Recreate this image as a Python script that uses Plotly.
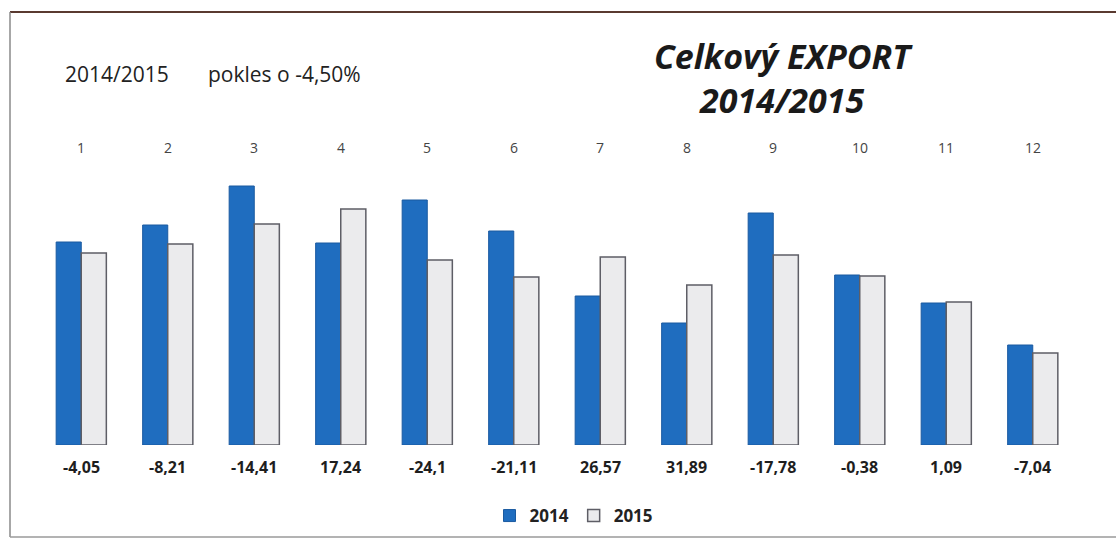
import plotly.graph_objects as go

months = ["1", "2", "3", "4", "5", "6", "7", "8", "9", "10", "11", "12"]
export_2014 = [203, 220, 259, 202, 245, 214, 149, 122, 232, 170, 142, 100]
export_2015 = [192, 201, 221, 236, 185, 168, 188, 160, 190, 169, 143, 92]
change_pct = ["-4,05", "-8,21", "-14,41", "17,24", "-24,1", "-21,11",
              "26,57", "31,89", "-17,78", "-0,38", "1,09", "-7,04"]

FONT = "Open Sans"
L, T, B, W, H = 38, 175, 95, 1038, 270


def py(pix):
    """paper y for a pixel row"""
    return (T + H - pix) / H


def px(pix):
    return (pix - L) / W


fig = go.Figure()
fig.add_trace(go.Bar(
    x=months, y=export_2014, name="2014",
    marker=dict(color="#1f6dbf", line=dict(color="#1a5aa0", width=1)),
))
fig.add_trace(go.Bar(
    x=months, y=export_2015, name="2015",
    marker=dict(color="#ebebed", line=dict(color="#5e5e66", width=1.5)),
))

annotations = []
for i, (m, p) in enumerate(zip(months, change_pct)):
    annotations.append(dict(x=i, y=py(467), xref="x", yref="paper", text="<b>" + p + "</b>",
                            showarrow=False, xanchor="center", yanchor="middle",
                            font=dict(family=FONT, size=16, color="#1e1e1e")))
    annotations.append(dict(x=i, y=py(147), xref="x", yref="paper", text=m, showarrow=False,
                            xanchor="center", yanchor="middle",
                            font=dict(family=FONT, size=14, color="#444")))

annotations += [
    dict(xref="paper", yref="paper", x=px(783), y=py(78), xanchor="center", yanchor="middle",
         text="<b><i>Celkový EXPORT<br>2014/2015</i></b>", showarrow=False,
         font=dict(family=FONT, size=34, color="#1a1a1a")),
    dict(xref="paper", yref="paper", x=px(63), y=py(74), xanchor="left", yanchor="middle",
         text="2014/2015", showarrow=False,
         font=dict(family=FONT, size=21, color="#222")),
    dict(xref="paper", yref="paper", x=px(206), y=py(74), xanchor="left", yanchor="middle",
         text="pokles o -4,50%", showarrow=False,
         font=dict(family=FONT, size=21, color="#222")),
]

shapes = [
    dict(type="line", xref="paper", yref="paper",
         x0=px(10), x1=px(1116), y0=py(12), y1=py(12),
         line=dict(color="#5a3a30", width=2)),
    dict(type="line", xref="paper", yref="paper",
         x0=px(10), x1=px(10), y0=py(12), y1=py(537),
         line=dict(color="#8a8a8a", width=1.5)),
    dict(type="line", xref="paper", yref="paper",
         x0=px(10), x1=px(1116), y0=py(537), y1=py(537),
         line=dict(color="#9a9a9a", width=1.5)),
]

fig.update_layout(
    width=1116, height=540,
    margin=dict(l=L, r=1116 - L - W, t=T, b=B, autoexpand=False),
    paper_bgcolor="white", plot_bgcolor="white",
    barmode="group", bargap=0.42, bargroupgap=0,
    font=dict(family=FONT),
    showlegend=True,
    legend=dict(orientation="h", x=px(574), y=py(516),
                xanchor="center", yanchor="middle",
                font=dict(family=FONT, size=17, color="#222", weight="bold"),
                itemwidth=30, traceorder="normal"),
    xaxis=dict(type="category", showticklabels=False, showgrid=False,
               zeroline=False, showline=False),
    yaxis=dict(range=[0, H], visible=False),
    annotations=annotations,
    shapes=shapes,
)

fig.write_html("out.html", config={"displayModeBar": False},
               post_script="document.body.style.margin='0';")
